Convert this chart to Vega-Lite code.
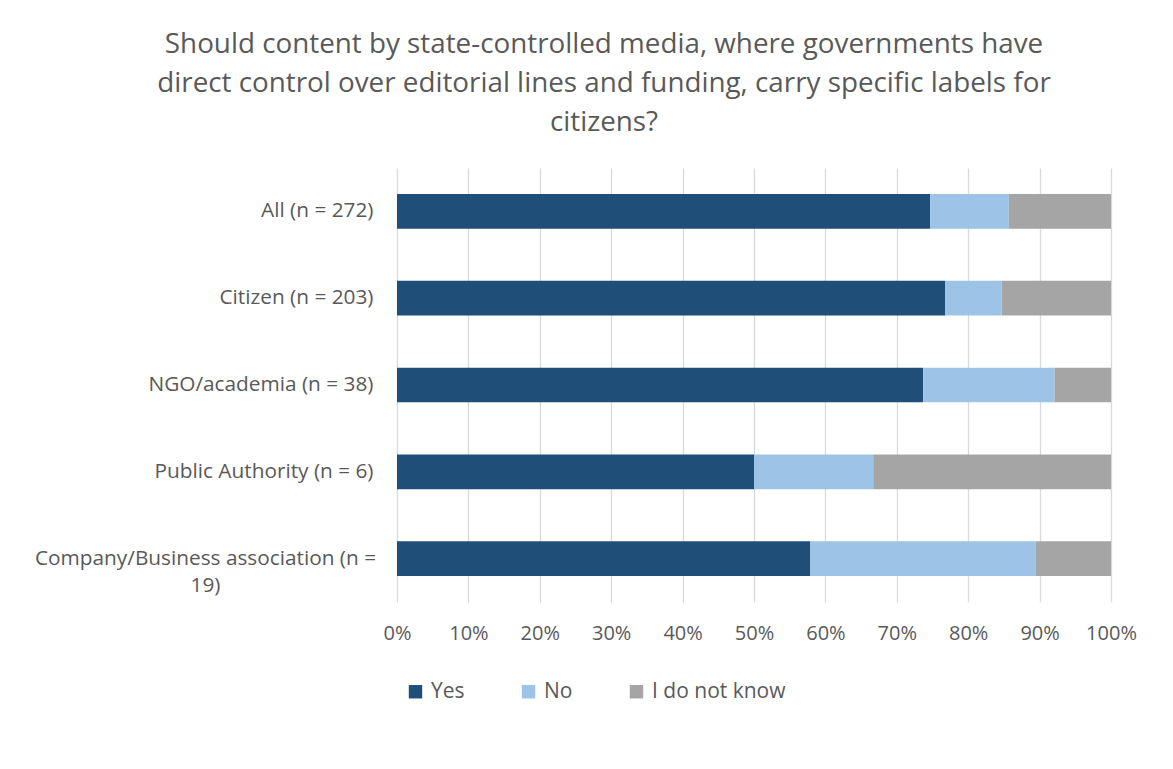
{
  "$schema": "https://vega.github.io/schema/vega-lite/v6.json",
  "width": 714,
  "height": 434,
  "autosize": {"type": "none"},
  "padding": {"left": 397, "top": 168, "right": 62, "bottom": 167},
  "background": "white",
  "config": {"view": {"stroke": null}},
  "title": {
    "text": ["Should content by state-controlled media, where governments have", "direct control over editorial lines and funding, carry specific labels for", "citizens?"],
    "font": "Open Sans",
    "fontSize": 27.8,
    "fontWeight": "normal",
    "color": "#595959",
    "anchor": "middle",
    "dx": -150,
    "offset": 31,
    "lineHeight": 39
  },
  "data": {
    "values": [
      {"group": "All (n = 272)", "answer": "Yes", "ord": 1, "pct": 74.6},
      {"group": "All (n = 272)", "answer": "No", "ord": 2, "pct": 11.0},
      {"group": "All (n = 272)", "answer": "I do not know", "ord": 3, "pct": 14.3},
      {"group": "Citizen (n = 203)", "answer": "Yes", "ord": 1, "pct": 76.8},
      {"group": "Citizen (n = 203)", "answer": "No", "ord": 2, "pct": 7.9},
      {"group": "Citizen (n = 203)", "answer": "I do not know", "ord": 3, "pct": 15.3},
      {"group": "NGO/academia (n = 38)", "answer": "Yes", "ord": 1, "pct": 73.7},
      {"group": "NGO/academia (n = 38)", "answer": "No", "ord": 2, "pct": 18.4},
      {"group": "NGO/academia (n = 38)", "answer": "I do not know", "ord": 3, "pct": 7.9},
      {"group": "Public Authority (n = 6)", "answer": "Yes", "ord": 1, "pct": 50.0},
      {"group": "Public Authority (n = 6)", "answer": "No", "ord": 2, "pct": 16.7},
      {"group": "Public Authority (n = 6)", "answer": "I do not know", "ord": 3, "pct": 33.3},
      {"group": "Company/Business association (n = 19)", "answer": "Yes", "ord": 1, "pct": 57.9},
      {"group": "Company/Business association (n = 19)", "answer": "No", "ord": 2, "pct": 31.6},
      {"group": "Company/Business association (n = 19)", "answer": "I do not know", "ord": 3, "pct": 10.5}
    ]
  },
  "mark": {"type": "bar"},
  "encoding": {
    "y": {
      "field": "group",
      "type": "nominal",
      "sort": ["All (n = 272)", "Citizen (n = 203)", "NGO/academia (n = 38)", "Public Authority (n = 6)", "Company/Business association (n = 19)"],
      "scale": {"paddingInner": 0.6, "paddingOuter": 0.3},
      "axis": {
        "title": null,
        "domain": false,
        "ticks": false,
        "labelFont": "Open Sans",
        "labelFontSize": 20.8,
        "labelColor": "#595959",
        "labelLimit": 400,
        "labelLineHeight": 27,
        "labelExpr": "datum.value == 'Company/Business association (n = 19)' ? ['Company/Business association (n =', '19)'] : datum.label",
        "labelAlign": {"condition": {"test": "datum.value == 'Company/Business association (n = 19)'", "value": "center"}, "value": "right"},
        "labelPadding": {"condition": {"test": "datum.value == 'Company/Business association (n = 19)'", "value": 192}, "value": 24}
      }
    },
    "x": {
      "field": "pct",
      "type": "quantitative",
      "stack": "normalize",
      "scale": {"domain": [0, 1]},
      "axis": {
        "title": null,
        "format": ".0%",
        "values": [0, 0.1, 0.2, 0.3, 0.4, 0.5, 0.6, 0.7, 0.8, 0.9, 1],
        "grid": true,
        "gridColor": "#d9d9d9",
        "gridWidth": 1.3,
        "domain": false,
        "ticks": false,
        "labelFont": "Open Sans",
        "labelFontSize": 20,
        "labelColor": "#595959",
        "labelPadding": 21,
        "labelFlush": false
      }
    },
    "color": {
      "field": "answer",
      "type": "nominal",
      "sort": ["Yes", "No", "I do not know"],
      "scale": {"domain": ["Yes", "No", "I do not know"], "range": ["#1f4e79", "#9dc3e6", "#a5a5a5"]},
      "legend": {
        "title": null,
        "orient": "none",
        "direction": "horizontal",
        "legendX": 8,
        "legendY": 513,
        "symbolType": "square",
        "symbolSize": 180,
        "symbolStrokeWidth": 0,
        "labelFont": "Open Sans",
        "labelFontSize": 21,
        "labelColor": "#595959",
        "labelOffset": 5,
        "columnPadding": 53,
        "padding": 0
      }
    },
    "order": {"field": "ord", "type": "quantitative"}
  }
}
